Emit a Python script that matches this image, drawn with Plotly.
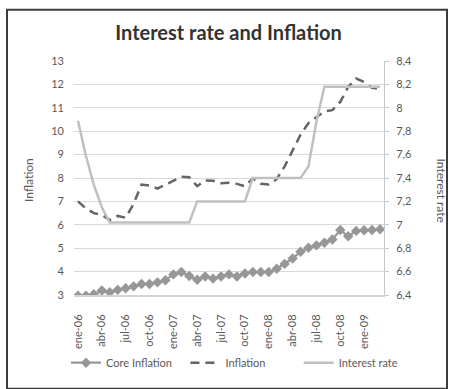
import plotly.graph_objects as go

# Monthly categories, ene-06 .. mar-09
meses = ["ene", "feb", "mar", "abr", "may", "jun", "jul", "ago", "sep", "oct", "nov", "dic"]
months = [f"{m}-{y:02d}" for y in (6, 7, 8, 9) for m in meses][:39]
tick_months = months[::3]

core_inflation = [2.97, 2.97, 3.03, 3.19, 3.12, 3.22, 3.29, 3.37, 3.47, 3.47,
                  3.54, 3.63, 3.88, 3.98, 3.81, 3.65, 3.79, 3.70, 3.79, 3.88,
                  3.79, 3.92, 3.98, 3.98, 3.98, 4.12, 4.33, 4.56, 4.85, 5.02,
                  5.12, 5.23, 5.37, 5.78, 5.51, 5.74, 5.77, 5.78, 5.81]

inflation = [7.00, 6.70, 6.50, 6.42, 6.20, 6.38, 6.30, 6.90, 7.72, 7.68,
             7.55, 7.72, 7.90, 8.05, 8.03, 7.65, 7.90, 7.88, 7.78, 7.80,
             7.75, 7.65, 7.98, 7.75, 7.72, 7.95, 8.50, 9.15, 9.85, 10.35,
             10.60, 10.85, 10.90, 11.25, 11.90, 12.25, 12.10, 11.85, 11.80]

interest_rate = [7.89, 7.59, 7.34, 7.15, 7.02, 7.02, 7.02, 7.02, 7.02, 7.02,
                 7.02, 7.02, 7.02, 7.02, 7.02, 7.20, 7.20, 7.20, 7.20, 7.20,
                 7.20, 7.20, 7.40, 7.40, 7.40, 7.40, 7.40, 7.40, 7.40, 7.50,
                 7.88, 8.18, 8.18, 8.18, 8.18, 8.18, 8.18, 8.18, 8.18]

FONT = "Lato"
TXT = "#595959"

W, H = 457, 389
L, R, T, B = 74, 73, 61, 86
pw, ph = W - L - R, H - T - B

# extra room after legend labels
NB = "\u00a0"


def px_x(x):
    return (x - L) / pw


def px_y(y):
    return (H - B - y) / ph


fig = go.Figure()

fig.add_trace(go.Scatter(
    x=months, y=core_inflation, name="Core Inflation" + NB * 3, mode="lines+markers",
    line=dict(color="#979797", width=2.2),
    marker=dict(symbol="diamond", size=8, color="#979797"),
))
fig.add_trace(go.Scatter(
    x=months, y=inflation, name="Inflation" + NB * 10, mode="lines",
    line=dict(color="#646464", width=2.5, dash="9px,6px"),
))
fig.add_trace(go.Scatter(
    x=months, y=interest_rate, name="Interest rate", mode="lines",
    line=dict(color="#c0c0c0", width=2.5), yaxis="y2",
))

fig.update_layout(
    width=W, height=H, autosize=False,
    margin=dict(l=L, r=R, t=T, b=B),
    paper_bgcolor="white", plot_bgcolor="white",
    separators=", ",
    font=dict(family=FONT, size=11, color=TXT),
    title=dict(text="<b>Interest rate and Inflation</b>", x=0.5, xanchor="center",
               xref="container", yref="container", y=1 - 33 / H, yanchor="middle",
               font=dict(family=FONT, size=20, color="#333333")),
    xaxis=dict(type="category", range=[-0.5, 38.5], tickmode="array",
               tickvals=tick_months, ticktext=tick_months, tickangle=-90,
               showgrid=False, showline=True, linecolor="#d4d4d4", linewidth=2,
               ticks="", ticklabelstandoff=13, zeroline=False,
               tickfont=dict(size=11, color=TXT)),
    yaxis=dict(range=[3, 13], dtick=1, showgrid=True, gridcolor="#d9d9d9",
               gridwidth=1, zeroline=False, showline=False, ticks="",
               ticklabelstandoff=9, tickfont=dict(size=11, color=TXT)),
    yaxis2=dict(range=[6.4, 8.4], dtick=0.2, overlaying="y", side="right",
                showgrid=False, zeroline=False, showline=True, linecolor="#c8c8c8",
                linewidth=1, ticks="outside", ticklen=4, tickcolor="#c8c8c8",
                ticklabelstandoff=5, tickfont=dict(size=11, color=TXT)),
    legend=dict(orientation="h", x=px_x(66), xanchor="left", y=px_y(373),
                yanchor="middle", font=dict(size=11, color=TXT), itemwidth=30,
                tracegroupgap=0, bgcolor="rgba(0,0,0,0)"),
    showlegend=True,
)

# Axis titles
fig.add_annotation(text="Inflation", xref="paper", yref="paper",
                   x=px_x(29), y=px_y(184), xanchor="center", yanchor="middle",
                   textangle=-90, showarrow=False,
                   font=dict(size=12, color=TXT))
fig.add_annotation(text="Interest rate", xref="paper", yref="paper",
                   x=px_x(441), y=px_y(195), xanchor="center", yanchor="middle",
                   textangle=90, showarrow=False,
                   font=dict(size=12, color=TXT))

# Chart frame
fig.add_shape(type="rect", xref="paper", yref="paper",
              x0=px_x(7), x1=px_x(447), y0=px_y(400), y1=px_y(8),
              line=dict(color="#3c3c3c", width=2), fillcolor="rgba(0,0,0,0)",
              layer="below")

fig.write_html("out.html")
